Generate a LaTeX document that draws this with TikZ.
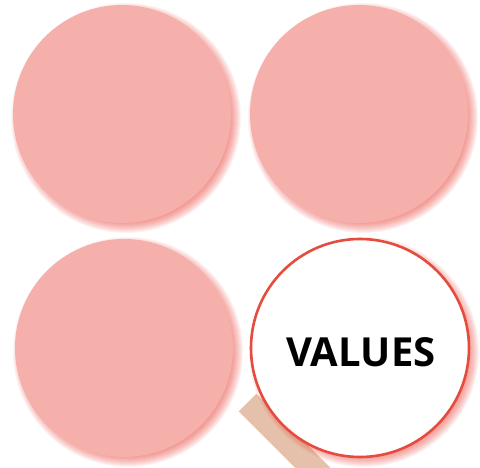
\documentclass[tikz,border=0pt]{standalone}
\usepackage{fontspec}
\newfontfamily\valfont{Open Sans}
\definecolor{pinkfill}{RGB}{245,176,172}
\definecolor{glowred}{RGB}{235,60,50}
\definecolor{ringred}{RGB}{229,76,62}
\definecolor{handletan}{RGB}{229,193,171}
\tikzset{
  disc/.style={circle, fill=pinkfill, minimum size=218pt, inner sep=0pt},
  glass/.style={circle, fill=white, draw=ringred, line width=2.6pt, minimum size=218pt, inner sep=0pt},
  vlabel/.style={font=\valfont\bfseries\fontsize{40}{40}\selectfont, inner sep=0pt},
  glowlayer/.style={fill=glowred, opacity=0.06},
  handlebar/.style={fill=handletan}
}
\newcommand{\glowat}[2]{%
  \foreach \k in {-4,...,6}{\fill[glowlayer] (#1+4,#2+4) circle ({109pt+\k pt});}}
\begin{document}
\begin{tikzpicture}[x=1pt,y=-1pt]
\clip (0,0) rectangle (480,468);
\fill[white] (0,0) rectangle (480,468);
% shadows
\glowat{122}{114}
\glowat{359}{114}
\glowat{124}{348}
\node[disc] (c1) at (122,114) {};
\node[disc] (c2) at (359,114) {};
\node[disc] (c3) at (124,348) {};
% handle
\coordinate (h1) at (256.3,393.7);
\coordinate (h2) at (238.7,411.3);
\coordinate (h3) at (344.8,517.5);
\coordinate (h4) at (362.5,499.8);
\fill[handlebar] (h1) -- (h2) -- (h3) -- (h4) -- cycle;
\glowat{360}{348}
\node[glass] (v) at (360,348) {};
\node[vlabel] (vt) at (361,352.5) {VALUES};
\end{tikzpicture}
\end{document}
